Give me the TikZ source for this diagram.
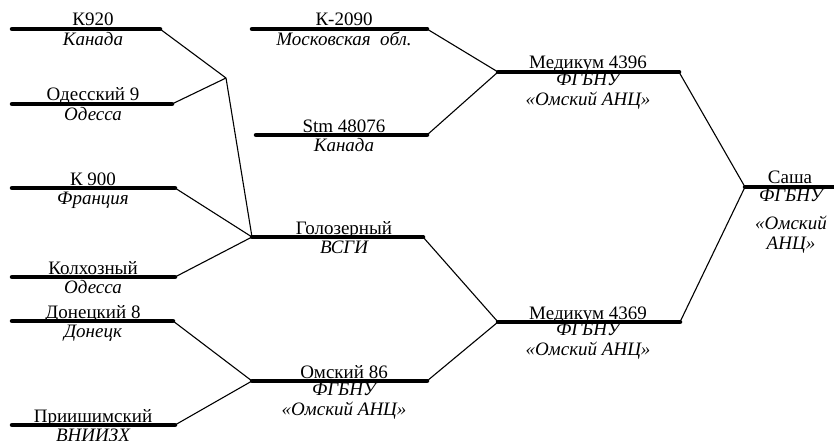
\documentclass[tikz,border=0pt]{standalone}
\usepackage{fontspec}
\setmainfont{Liberation Serif}

\begin{document}
\begin{tikzpicture}[x=1pt, y=-1pt]

\tikzset{
  sortbar/.style={line width=4.5pt, line cap=round},
  link/.style={line width=1.1pt},
  sortname/.style={anchor=base, inner sep=0pt, font=\fontsize{19}{20}\selectfont},
  origin/.style={anchor=north, inner sep=0pt, align=center,
    font=\fontsize{19}{20}\selectfont\itshape, execute at begin node=\strut}
}

\useasboundingbox (0,0) rectangle (834,441);

%parents
\foreach \id/\xw/\xe/\y/\nm/\org in {
    k920/12/160/29/К920/Канада,
    od9/12/172/104/Одесский 9/Одесса,
    k900/12/175/188/К 900/Франция,
    kolh/12/175/277/Колхозный/Одесса,
    don8/12/173/321/Донецкий 8/Донецк,
    prii/12/175/425/Приишимский/ВНИИЗХ} {
  \coordinate (\id-w) at (\xw,\y);
  \coordinate (\id-e) at (\xe,\y);
  \draw[sortbar] (\id-w) -- (\id-e);
  \node[sortname] (\id-n) at (93,\y-3) {\nm};
  \node[origin] (\id-o) at (93,\y+2) {\org};
}

%second row
\foreach \id/\xw/\xe/\y/\nm/\org in {
    k2090/252/427/29/К-2090/{Московская\ \ обл.},
    stm/256/427/135/Stm 48076/Канада,
    gol/252/423/237/Голозерный/ВСГИ,
    om86/252/427/381/Омский 86/{ФГБНУ\\«Омский АНЦ»}} {
  \coordinate (\id-w) at (\xw,\y);
  \coordinate (\id-e) at (\xe,\y);
  \draw[sortbar] (\id-w) -- (\id-e);
  \node[sortname] (\id-n) at (344,\y-3) {\nm};
  \node[origin] (\id-o) at (344,\y+2) {\org};
}

%third row
\foreach \id/\xe/\y/\nm in {
    med1/679/72/Медикум 4396,
    med2/680/322/Медикум 4369} {
  \coordinate (\id-w) at (498,\y);
  \coordinate (\id-e) at (\xe,\y);
  \draw[sortbar] (\id-w) -- (\id-e);
  \node[sortname] (\id-n) at (588,\y-3) {\nm};
  \node[origin] (\id-o) at (588,\y+1) {ФГБНУ\\«Омский АНЦ»};
}

%result
\coordinate (sasha-w) at (745,187);
\coordinate (sasha-e) at (838,187);
\draw[sortbar] (sasha-w) -- (sasha-e);
\node[sortname] (sasha-n) at (790,183) {Саша};
\node[origin] (sasha-o) at (791,189) {ФГБНУ\\[8pt]«Омский\\АНЦ»};

\coordinate (j1) at (226,78);

\draw[link] (k920-e) -- (j1);
\draw[link] (od9-e) -- (j1);
\draw[link] (j1) -- (gol-w);
\draw[link] (k900-e) -- (gol-w);
\draw[link] (kolh-e) -- (gol-w);
\draw[link] (don8-e) -- (om86-w);
\draw[link] (prii-e) -- (om86-w);
\draw[link] (k2090-e) -- (med1-w);
\draw[link] (stm-e) -- (med1-w);
\draw[link] (gol-e) -- (med2-w);
\draw[link] (om86-e) -- (med2-w);
\draw[link] (med1-e) -- (sasha-w);
\draw[link] (med2-e) -- (sasha-w);

\end{tikzpicture}
\end{document}
